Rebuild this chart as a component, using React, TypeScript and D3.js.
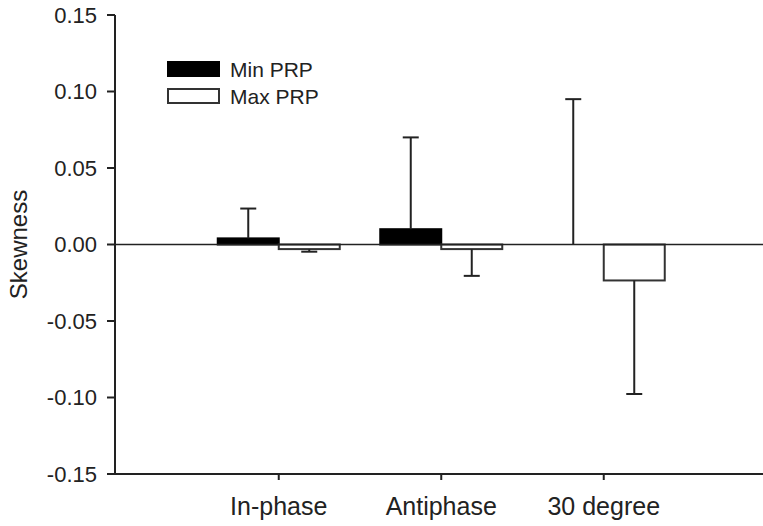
import React from "react";
import * as d3 from "d3";

const categories = ["In-phase", "Antiphase", "30 degree"];
const seriesNames = ["Min PRP", "Max PRP"];
const minPRP = [0.004, 0.01, 0.0];
const minPRPErr = [0.0195, 0.06, 0.095];
const maxPRP = [-0.003, -0.003, -0.0235];
const maxPRPErr = [-0.0017, -0.0175, -0.0742];
const yTicks = [-0.15, -0.1, -0.05, 0, 0.05, 0.1, 0.15];

const W = 763;
const H = 526;
const FONT = "'Liberation Sans', Arial, sans-serif";

export default function App() {
  const axisX = 115;
  const y = d3.scaleLinear().domain([-0.15, 0.15]).range([474, 15]);
  const x = d3.scaleBand().domain(categories).range([197.5, 685]);
  const sub = d3.scaleBand().domain(seriesNames).range([-61, 61]);

  const series = [
    { name: seriesNames[0], values: minPRP, errs: minPRPErr, fill: "#000", stroke: "#000" },
    { name: seriesNames[1], values: maxPRP, errs: maxPRPErr, fill: "#fff", stroke: "#333" },
  ];

  return (
    <svg
      width={W}
      height={H}
      style={{ position: "absolute", left: 0, top: 0, overflow: "hidden" }}
      fontFamily={FONT}
    >
      <rect width={W} height={H} fill="#fff" />

      {/* bars + one-sided error bars */}
      {series.map((s) =>
        categories.map((c, i) => {
          const cx = x(c)! + x.bandwidth() / 2;
          const x0 = cx + sub(s.name)!;
          const w = sub.bandwidth();
          const v = s.values[i];
          const top = Math.min(y(v), y(0));
          const h = Math.abs(y(v) - y(0));
          const ex = x0 + w / 2;
          const ey = y(v + s.errs[i]);
          return (
            <g key={s.name + c}>
              {h > 0.5 && (
                <rect x={x0} y={top} width={w} height={h} fill={s.fill} stroke={s.stroke} strokeWidth={2} />
              )}
              <line x1={ex} x2={ex} y1={y(v)} y2={ey} stroke="#222" strokeWidth={2} />
              <line x1={ex - 8} x2={ex + 8} y1={ey} y2={ey} stroke="#222" strokeWidth={2} />
            </g>
          );
        })
      )}

      {/* zero line */}
      <line x1={axisX} x2={W} y1={y(0)} y2={y(0)} stroke="#222" strokeWidth={1.5} />

      {/* y axis */}
      <line x1={axisX} x2={axisX} y1={y(0.15)} y2={y(-0.15)} stroke="#222" strokeWidth={2} />
      {yTicks.map((t) => (
        <g key={t} transform={`translate(0,${y(t)})`}>
          <line x1={axisX - 8} x2={axisX} stroke="#222" strokeWidth={2} />
          <text x={97} dy="0.36em" textAnchor="end" fontSize={22} fill="#222">
            {d3.format(".2f")(t).replace("−", "-")}
          </text>
        </g>
      ))}
      <text transform={`translate(27,${y(0)}) rotate(-90)`} textAnchor="middle" fontSize={24} fill="#222">
        Skewness
      </text>

      {/* x axis */}
      <line x1={axisX} x2={W} y1={y(-0.15)} y2={y(-0.15)} stroke="#222" strokeWidth={2} />
      {categories.map((c) => {
        const cx = x(c)! + x.bandwidth() / 2;
        return (
          <g key={c}>
            <line x1={cx} x2={cx} y1={y(-0.15)} y2={y(-0.15) + 6} stroke="#222" strokeWidth={2} />
            <text x={cx} y={515} textAnchor="middle" fontSize={25} fill="#222">
              {c}
            </text>
          </g>
        );
      })}

      {/* legend */}
      {series.map((s, i) => (
        <g key={s.name} transform={`translate(168,${62 + i * 27})`}>
          <rect width={51} height={14} fill={s.fill} stroke={s.stroke} strokeWidth={2} />
          <text x={62} y={15} fontSize={21} fill="#222">
            {s.name}
          </text>
        </g>
      ))}
    </svg>
  );
}
